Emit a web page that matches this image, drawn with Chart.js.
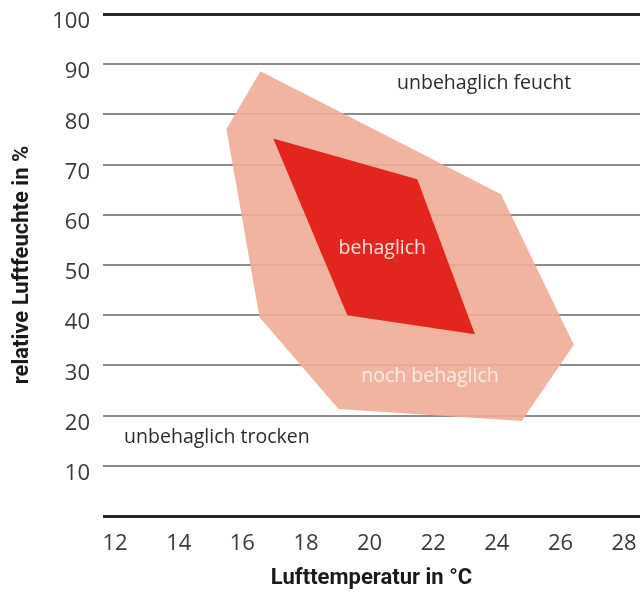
<!DOCTYPE html>
<html lang="de">
<head>
<meta charset="UTF-8">
<script src="https://cdn.jsdelivr.net/npm/chart.js@4.4.0/dist/chart.umd.min.js"></script>
<title>Behaglichkeit</title>
<style>
  html, body { margin: 0; padding: 0; background: #fff; }
  #wrap { width: 640px; height: 592px; }
</style>
</head>
<body>
<div id="wrap"><canvas id="chart" width="640" height="592"></canvas></div>
<script>
// Lufttemperatur (°C) / relative Luftfeuchte (%) – Eckpunkte der Zonen
const nochBehaglichTemp = [16.57, 15.50, 16.54, 19.02, 24.78, 26.42, 24.13, 16.57];
const nochBehaglichRh   = [88.6, 77.1, 39.6, 21.3, 18.9, 34.1, 64.1, 88.6];
const behaglichTemp = [16.97, 21.50, 23.31, 19.30, 16.97];
const behaglichRh   = [75.2, 67.1, 36.2, 40.0, 75.2];

const xTicks = [12, 14, 16, 18, 20, 22, 24, 26, 28];
const yTicks = [10, 20, 30, 40, 50, 60, 70, 80, 90, 100];

const zoneLabels = ['unbehaglich feucht', 'behaglich', 'noch behaglich', 'unbehaglich trocken'];
const zoneLabelTemp = [23.6, 20.4, 21.9, 15.2];
const zoneLabelRh = [86.2, 53.3, 27.9, 15.7];

function toPoints(xs, ys) {
    return xs.map((x, i) => ({ x: x, y: ys[i] }));
}

const labelColors = ['#2b2b2b', '#fbe3dc', '#fbece6', '#2b2b2b'];

const zoneText = {
    id: 'zoneText',
    afterDatasetsDraw(chart) {
        const ctx = chart.ctx;
        const xs = chart.scales.x, ys = chart.scales.y;
        ctx.save();
        ctx.font = '19.5px "Open Sans"';
        ctx.textAlign = 'center';
        ctx.textBaseline = 'middle';
        zoneLabels.forEach((t, i) => {
            ctx.fillStyle = labelColors[i];
            ctx.fillText(t, xs.getPixelForValue(zoneLabelTemp[i]), ys.getPixelForValue(zoneLabelRh[i]));
        });
        ctx.restore();
    }
};

const ctx = document.getElementById('chart').getContext('2d');
new Chart(ctx, {
    type: 'scatter',
    data: {
        datasets: [
            {
                label: 'behaglich',
                data: toPoints(behaglichTemp, behaglichRh),
                showLine: true,
                fill: 'shape',
                backgroundColor: 'rgb(226, 38, 31)',
                borderColor: 'rgb(226, 38, 31)',
                borderWidth: 0,
                pointRadius: 0,
                tension: 0,
                order: 0
            },
            {
                label: 'noch behaglich',
                data: toPoints(nochBehaglichTemp, nochBehaglichRh),
                showLine: true,
                fill: 'shape',
                backgroundColor: 'rgba(240, 172, 150, 0.9)',
                borderColor: 'rgba(240, 172, 150, 0)',
                borderWidth: 0,
                pointRadius: 0,
                tension: 0,
                order: 1
            }
        ]
    },
    options: {
        responsive: false,
        animation: false,
        layout: { padding: { top: 14, right: 0, bottom: 0, left: 0 } },
        plugins: {
            legend: { display: false },
            tooltip: { enabled: false }
        },
        scales: {
            x: {
                type: 'linear',
                min: 11.62,
                max: 28.5,
                afterBuildTicks: (s) => { s.ticks = xTicks.map(v => ({ value: v })); },
                afterFit: (s) => { s.height = 76; s.paddingLeft = 0; s.paddingRight = 0; },
                grid: { display: false, drawTicks: false },
                border: { display: false },
                ticks: {
                    color: '#3a3a3a',
                    font: { family: 'Open Sans', size: 22 },
                    padding: 15,
                    maxRotation: 0
                },
                title: {
                    display: true,
                    text: 'Lufttemperatur in °C',
                    color: '#1a1a1a',
                    font: { family: 'Roboto', size: 22, weight: 'bold' },
                    padding: { top: 0, bottom: 0 }
                }
            },
            y: {
                min: 0,
                max: 100,
                afterBuildTicks: (s) => { s.ticks = [0].concat(yTicks).map(v => ({ value: v })); },
                afterFit: (s) => { s.width = 103; s.paddingTop = 0; s.paddingBottom = 0; },
                grid: {
                    drawTicks: false,
                    color: (c) => (c.tick.value === 0 || c.tick.value === 100) ? '#262626' : '#8c8c8c',
                    lineWidth: (c) => (c.tick.value === 0 || c.tick.value === 100) ? 3 : 2
                },
                border: { display: false },
                ticks: {
                    color: '#3a3a3a',
                    font: { family: 'Open Sans', size: 22 },
                    padding: 13,
                    labelOffset: 8,
                    callback: (v) => v === 0 ? '' : v
                },
                title: {
                    display: true,
                    text: 'relative Luftfeuchte in %',
                    color: '#1a1a1a',
                    font: { family: 'Roboto', size: 22, weight: 'bold' },
                    padding: { top: 9, bottom: 0 }
                }
            }
        }
    },
    plugins: [zoneText]
});
</script>
</body>
</html>
